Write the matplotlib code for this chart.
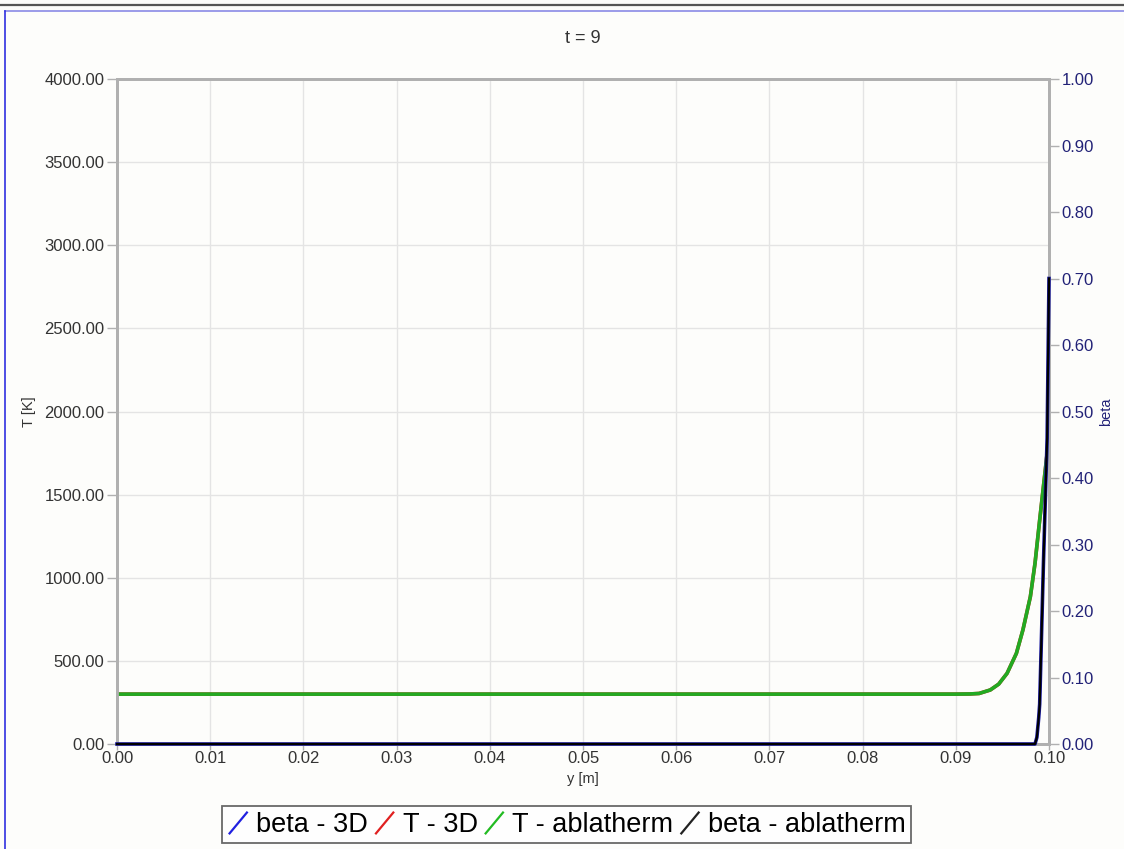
import matplotlib
matplotlib.use("Agg")
import matplotlib.pyplot as plt
from matplotlib.lines import Line2D
from matplotlib.legend_handler import HandlerBase

plt.rcParams['font.family'] = ['Liberation Sans', 'DejaVu Sans']

# ---- data ----
title = "t = 9"
y_T = [0.0, 0.0900, 0.0915, 0.0925, 0.0937, 0.0946, 0.0955, 0.0965, 0.0972, 0.0980,
       0.0985, 0.0990, 0.0996, 0.0999, 0.1000]
T_3d = [300, 300, 301, 304, 325, 360, 425, 545, 686, 886, 1087, 1347, 1648, 1800, 1850]
T_abl = [300, 300, 301, 304, 325, 360, 425, 545, 686, 886, 1087, 1347, 1648, 1800, 1850]

y_beta = [0.0, 0.0985, 0.0987, 0.0989, 0.0990, 0.0994, 0.0998, 0.1000]
beta_3d = [0.0, 0.0, 0.01, 0.04, 0.06, 0.27, 0.46, 0.70]
beta_abl = [0.0, 0.0, 0.01, 0.04, 0.06, 0.27, 0.46, 0.70]

x_ticks = [0.00, 0.01, 0.02, 0.03, 0.04, 0.05, 0.06, 0.07, 0.08, 0.09, 0.10]
T_ticks = [0, 500, 1000, 1500, 2000, 2500, 3000, 3500, 4000]
beta_ticks = [0.0, 0.1, 0.2, 0.3, 0.4, 0.5, 0.6, 0.7, 0.8, 0.9, 1.0]
legend_labels = ["beta - 3D", "T - 3D", "T - ablatherm", "beta - ablatherm"]

W, H = 1124, 849
fig = plt.figure(figsize=(W / 100, H / 100), dpi=100)
fig.patch.set_facecolor('#fdfdfb')

ax = fig.add_axes([117 / W, 1 - 744 / H, (1049 - 117) / W, (744 - 79) / H])
ax.set_facecolor('#fdfdfb')
ax2 = ax.twinx()

grid_c = '#e4e4e4'
spine_c = '#b0b0b0'

ax.set_xlim(0, 0.1)
ax.set_ylim(0, 4000)
ax2.set_ylim(0, 1.0)
ax.set_xticks(x_ticks)
ax.set_xticklabels([f"{v:.2f}" for v in x_ticks])
ax.set_yticks(T_ticks)
ax.set_yticklabels([f"{v:.2f}" for v in T_ticks])
ax2.set_yticks(beta_ticks)
ax2.set_yticklabels([f"{v:.2f}" for v in beta_ticks])
ax.grid(True, color=grid_c, lw=1.0)
ax.set_axisbelow(True)

for a in (ax, ax2):
    for s in a.spines.values():
        s.set_color(spine_c)
        s.set_linewidth(2.0)

ax.tick_params(axis='x', colors=spine_c, labelcolor='#333333', labelsize=12, length=4, width=1, pad=1)
ax.tick_params(axis='y', colors=spine_c, labelcolor='#333333', labelsize=12, length=7, width=1, pad=2)
ax2.tick_params(axis='y', colors=spine_c, labelcolor='#222277', labelsize=12, length=7, width=1, pad=2)

# lines
ax.plot(y_T, T_3d, color='#e02020', lw=2.6, zorder=3)
ax.plot(y_T, T_abl, color='#22aa22', lw=2.6, zorder=4)
ax2.plot(y_beta, beta_3d, color='#1a1aa0', lw=2.6, zorder=3, clip_on=False)
ax2.plot(y_beta, beta_abl, color='#000000', lw=1.6, zorder=4, clip_on=False)

ax.set_title(title, fontsize=13, color='#333333', pad=26)
ax.set_xlabel("y [m]", fontsize=10.5, color='#333333', labelpad=4)
ax.set_ylabel("T [K]", fontsize=10.5, color='#333333', labelpad=6)
ax2.set_ylabel("beta", fontsize=10.5, color='#222277', labelpad=4)


class SlashHandler(HandlerBase):
    def create_artists(self, legend, orig_handle, xdescent, ydescent, width, height, fontsize, trans):
        l = Line2D([xdescent + width * 0.1, xdescent + width * 0.9],
                   [ydescent - height * 0.1, ydescent + height * 1.0],
                   color=orig_handle.get_color(), lw=1.6, transform=trans)
        return [l]


handles = [Line2D([], [], color=c) for c in ['#2020e0', '#e02020', '#22bb22', '#222222']]
leg = fig.legend(handles, legend_labels, handler_map={Line2D: SlashHandler()},
                 loc='center', bbox_to_anchor=(566.5 / W, 1 - 824.5 / H), ncol=4,
                 fontsize=19.5, frameon=True, fancybox=False, edgecolor='#444444',
                 handlelength=0.8, handletextpad=0.26, columnspacing=0.22,
                 borderpad=0.2, borderaxespad=0)
leg.get_frame().set_linewidth(1.3)
leg.get_frame().set_facecolor('white')

# figure border lines
fig.add_artist(Line2D([0, 1], [1 - 5 / H, 1 - 5 / H], transform=fig.transFigure, color='#555555', lw=1.6))
fig.add_artist(Line2D([5 / W, 1], [1 - 11 / H, 1 - 11 / H], transform=fig.transFigure, color='#8a8ae6', lw=1.2))
fig.add_artist(Line2D([5 / W, 5 / W], [0, 1 - 11 / H], transform=fig.transFigure, color='#3030e0', lw=1.2))

fig.savefig("out.png", dpi=100, facecolor=fig.get_facecolor())
